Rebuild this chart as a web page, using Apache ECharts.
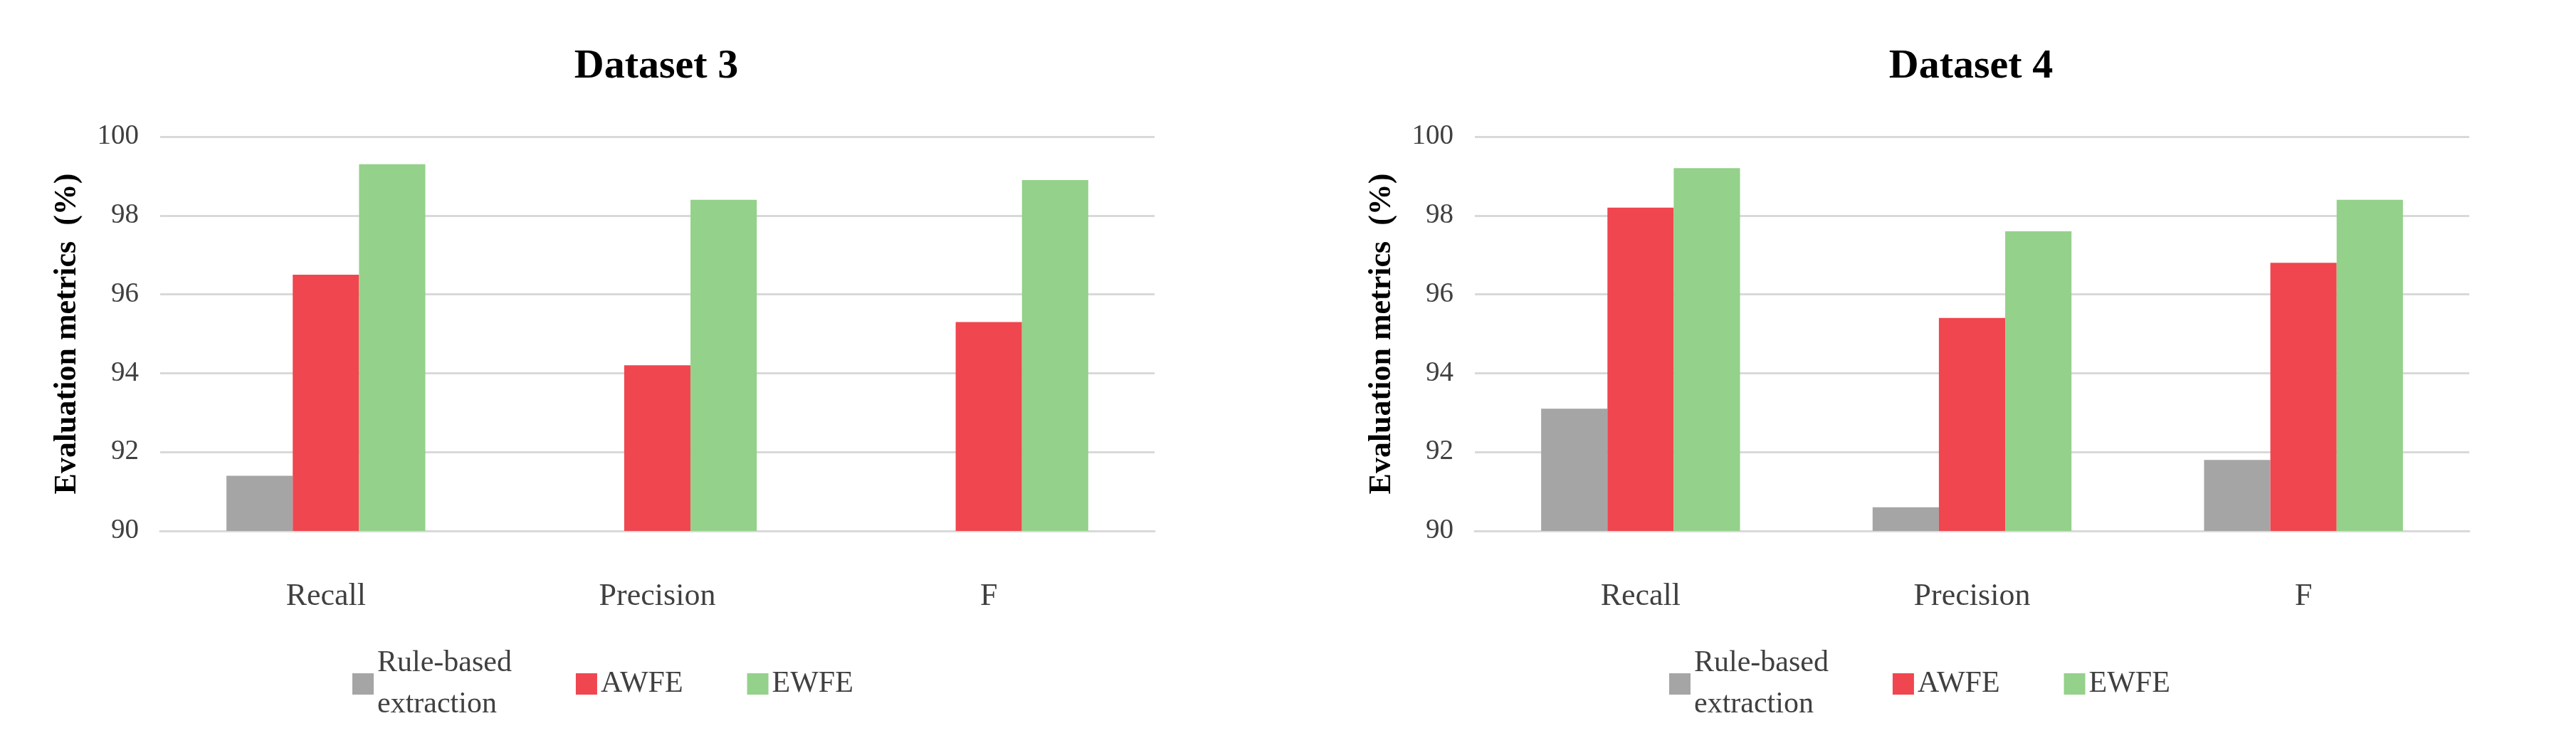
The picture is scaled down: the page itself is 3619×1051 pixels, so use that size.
<!DOCTYPE html>
<html>
<head>
<meta charset="utf-8">
<script src="https://cdn.jsdelivr.net/npm/echarts@6/dist/echarts.min.js"></script>
<style>html,body{margin:0;padding:0;background:#fff}#main{width:3619px;height:1051px}</style>
</head>
<body>
<div id="main"></div>
<script>
var categories = ['Recall', 'Precision', 'F'];
var seriesNames = ['Rule-based extraction', 'AWFE', 'EWFE'];
var colors = ['#a5a5a5', '#f0464f', '#94d18a'];
// Dataset 3 (rule-based has no visible bar for Precision and F)
var d3Rule = [91.4, null, null];
var d3Awfe = [96.5, 94.2, 95.3];
var d3Ewfe = [99.3, 98.4, 98.9];
// Dataset 4
var d4Rule = [93.1, 90.6, 91.8];
var d4Awfe = [98.2, 95.4, 96.8];
var d4Ewfe = [99.2, 97.6, 98.4];
var yTicks = [90, 92, 94, 96, 98, 100];

var font = 'Liberation Serif';
var myChart = echarts.init(document.getElementById('main'));

function makeGrid(left) {
	return { left: left, width: 1397, top: 192, height: 554 };
}
function makeX(i) {
	return {
		type: 'category', gridIndex: i, data: categories,
		axisLine: { show: true, lineStyle: { color: '#d9d9d9', width: 3 } },
		axisTick: { show: false },
		axisLabel: { fontFamily: font, fontSize: 44, color: '#404040', margin: 70 }
	};
}
function makeY(i) {
	return {
		type: 'value', gridIndex: i, min: yTicks[0], max: yTicks[yTicks.length - 1], interval: 2,
		name: 'Evaluation metrics  (%)', nameLocation: 'middle', nameGap: 108,
		nameTextStyle: { fontFamily: font, fontSize: 44, fontWeight: 'bold', color: '#000' },
		axisLine: { show: false }, axisTick: { show: false },
		axisLabel: { fontFamily: font, fontSize: 39, color: '#404040', margin: 30 },
		splitLine: { lineStyle: { color: '#d9d9d9', width: 3 } }
	};
}
function makeSeries(i, rule, awfe, ewfe) {
	var data = [rule, awfe, ewfe];
	var out = [];
	for (var k = 0; k < 3; k++) {
		out.push({
			name: seriesNames[k], type: 'bar', xAxisIndex: i, yAxisIndex: i,
			data: data[k], barGap: '0%', barCategoryGap: '40%',
			itemStyle: { color: colors[k] }
		});
	}
	return out;
}
function makeLegend(left) {
	return {
		left: left, top: 898, itemWidth: 30, itemHeight: 30, itemGap: 90, icon: 'rect',
		data: seriesNames,
		formatter: function (n) { return n === 'Rule-based extraction' ? 'Rule-based\nextraction' : n; },
		textStyle: { fontFamily: font, fontSize: 42, color: '#404040', lineHeight: 58 }
	};
}

var option = {
	backgroundColor: '#fff',
	animation: false,
	title: [
		{ text: 'Dataset 3', left: 917, top: 60, textAlign: 'center',
			textStyle: { fontFamily: font, fontSize: 58, fontWeight: 'bold', color: '#000' } },
		{ text: 'Dataset 4', left: 2764, top: 60, textAlign: 'center',
			textStyle: { fontFamily: font, fontSize: 58, fontWeight: 'bold', color: '#000' } }
	],
	legend: [makeLegend(490), makeLegend(2340)],
	grid: [makeGrid(225), makeGrid(2072)],
	xAxis: [makeX(0), makeX(1)],
	yAxis: [makeY(0), makeY(1)],
	series: makeSeries(0, d3Rule, d3Awfe, d3Ewfe).concat(makeSeries(1, d4Rule, d4Awfe, d4Ewfe))
};
myChart.setOption(option);
</script>
</body>
</html>
